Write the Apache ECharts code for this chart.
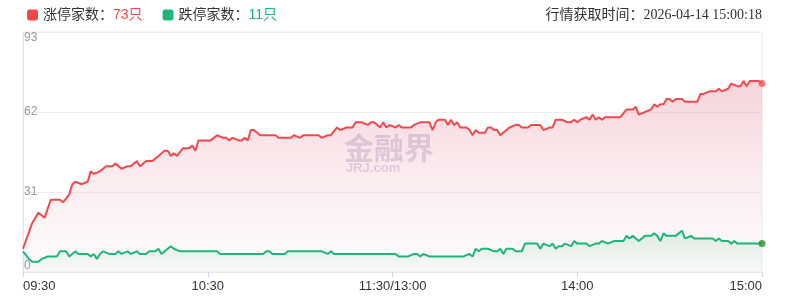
<!DOCTYPE html>
<html>
<head>
<meta charset="utf-8">
<script src="https://cdn.jsdelivr.net/npm/echarts@6/dist/echarts.min.js"></script>
<style>
html,body{margin:0;padding:0;background:#fff;}
#chart{width:793px;height:306px;}
</style>
</head>
<body>
<div id="chart"></div>
<script>
// ---- data ----
const tickMinutes = [0, 60, 120, 180, 240];
const tickLabels = ['09:30', '10:30', '11:30/13:00', '14:00', '15:00'];
const yTicks = [0, 31, 62, 93];

const upName = '涨停家数';
const downName = '跌停家数';
const upCount = '73只';
const downCount = '11只';
const fetchLabel = '行情获取时间：';
const fetchTime = '2026-04-14 15:00:18';

const upMinutes = [0,3,5,7,9,12,13,15,16,17,19,21,22,23,25,27,29,30,32,34,35,37,38,40,42,43,46,47,48,49,50,52,54,55,56,57,59,61,63,65,66,67,68,70,71,72,73,74,75,77,80,82,83,87,88,90,91,96,97,99,100,102,103,105,107,108,110,112,113,114,116,117,118,119,121,122,123,126,127,129,132,133,134,135,137,138,139,140,141,142,144,145,146,147,148,150,151,152,153,154,155,157,158,160,161,162,164,165,168,169,171,172,173,175,177,178,179,180,181,183,184,185,186,187,188,189,191,192,194,196,198,199,200,202,204,205,206,207,208,209,210,211,212,214,215,219,220,221,223,225,226,227,229,230,232,233,234,235,236,239,240];
const upValues = [9,19,23,21,28,28,27,30,34,35,34,35,39,38,39,41,41,42,40,41,41,43,41,43,43,44,47,47,45,46,45,48,48,49,47,51,51,51,53,52,52,51,52,51,51,52,51,55,55,53,53,53,52,52,53,52,53,53,52,53,53,56,55,56,56,58,58,57,58,58,56,58,56,57,56,57,56,56,57,58,58,55,58,59,59,57,59,57,58,56,56,55,53,55,54,54,56,56,55,55,53,55,56,57,57,56,56,57,57,55,56,56,59,59,58,58,59,58,59,60,59,61,59,60,59,60,60,60,60,63,63,64,61,62,63,65,64,65,65,67,67,66,67,67,66,66,69,69,70,70,71,70,71,73,72,72,74,72,74,74,73];

const downMinutes = [0,2,3,5,6,8,11,12,14,15,17,18,21,22,23,24,25,26,28,30,31,32,34,35,37,38,40,41,43,44,45,46,48,49,51,63,64,78,79,80,81,85,86,97,99,100,101,121,122,125,127,128,129,130,132,143,145,146,147,148,149,151,153,154,155,156,157,159,160,162,163,167,168,169,171,172,173,174,175,176,178,179,180,183,184,186,187,188,190,192,195,196,197,198,200,202,204,205,206,207,208,209,212,214,215,217,218,224,225,226,227,229,230,231,232,240];
const downValues = [8,5,4,4,5,6,6,8,8,6,8,7,7,6,7,5,7,8,7,7,8,7,8,7,8,7,7,8,8,9,7,8,10,9,8,8,7,7,8,8,7,7,8,8,7,8,7,7,6,6,7,7,6,7,6,6,7,6,9,8,9,9,8,8,9,7,9,9,8,8,11,11,9,11,10,11,9,10,10,11,10,12,11,11,10,11,11,12,11,12,12,14,13,14,12,14,14,15,14,12,15,14,14,16,13,14,13,13,12,13,12,12,11,12,11,11];

// ---- chart ----
const upColor = '#f2494d';
const downColor = '#1fb67a';
const zip = (xs, ys) => xs.map((x, i) => [x, ys[i]]);
const tickMap = {};
tickMinutes.forEach((m, i) => { tickMap[m] = tickLabels[i]; });
const FONT = '"Liberation Sans", "Noto Sans CJK SC", sans-serif';

const chart = echarts.init(document.getElementById('chart'), null, {renderer: 'canvas'});
chart.setOption({
  animation: false,
  textStyle: {fontFamily: FONT},
  grid: {left: 23, right: 31, top: 32, bottom: 34, show: true, borderColor: '#eeeeee', borderWidth: 1, backgroundColor: 'transparent'},
  legend: {
    left: 22, top: 3,
    icon: 'roundRect',
    itemWidth: 11, itemHeight: 11, itemGap: 20,
    data: [upName, downName],
    textStyle: {
      fontSize: 14, color: '#333', fontFamily: FONT,
      rich: {
        r: {fontSize: 14, color: upColor, fontFamily: FONT},
        g: {fontSize: 14, color: downColor, fontFamily: FONT}
      }
    },
    formatter: function (name) {
      return name === upName ? name + '：{r|' + upCount + '}' : name + '：{g|' + downCount + '}';
    }
  },
  graphic: [
    {
      type: 'text', right: 31, top: 8,
      style: {
        text: fetchLabel + '{t|' + fetchTime + '}',
        fontSize: 14, fill: '#333', fontFamily: FONT,
        rich: {t: {fontSize: 14, fontFamily: '"Liberation Serif", serif', fill: '#333'}}
      }
    },
    {
      type: 'group', left: 344, top: 133, silent: true, z: 1,
      children: [
        {type: 'text', x: 0, y: 0, style: {text: '金融界', fontSize: 30, fontWeight: 'bold', fill: 'rgba(140,130,185,0.32)', fontFamily: '"Noto Sans CJK SC", sans-serif'}},
        {type: 'text', x: 2, y: 29, style: {text: 'JRJ.com', fontSize: 13, fontWeight: 'bold', fill: 'rgba(140,130,185,0.32)', fontFamily: FONT}}
      ]
    }
  ],
  xAxis: {
    type: 'value', min: 0, max: 240, interval: 60,
    axisLine: {show: true, lineStyle: {color: '#e8e8e8'}},
    axisTick: {show: true, length: 5, lineStyle: {color: '#ccd6eb'}},
    splitLine: {show: false},
    axisLabel: {
      color: '#333', fontSize: 13, margin: 8, fontFamily: FONT,
      alignMinLabel: 'left', alignMaxLabel: 'right',
      formatter: v => tickMap[v] !== undefined ? tickMap[v] : ''
    }
  },
  yAxis: {
    type: 'value', min: yTicks[0], max: yTicks[yTicks.length - 1], interval: yTicks[1] - yTicks[0],
    axisLine: {show: true, lineStyle: {color: '#e6e6e6'}},
    axisTick: {show: false},
    splitLine: {show: true, lineStyle: {color: '#eeeeee'}},
    axisLabel: {
      inside: true, margin: 1, color: '#999', fontSize: 12, fontFamily: FONT,
      verticalAlignMinLabel: 'bottom', verticalAlignMaxLabel: 'top'
    }
  },
  series: [
    {
      name: upName, type: 'line', data: zip(upMinutes, upValues),
      showSymbol: false, symbol: 'none', z: 3,
      lineStyle: {color: upColor, width: 2},
      itemStyle: {color: upColor},
      areaStyle: {
        color: new echarts.graphic.LinearGradient(0, 0, 0, 1, [
          {offset: 0, color: 'rgba(222,110,135,0.42)'},
          {offset: 1, color: 'rgba(240,170,180,0.06)'}
        ])
      }
    },
    {
      name: downName, type: 'line', data: zip(downMinutes, downValues),
      showSymbol: false, symbol: 'none', z: 4,
      lineStyle: {color: downColor, width: 2},
      itemStyle: {color: downColor},
      areaStyle: {
        color: new echarts.graphic.LinearGradient(0, 0, 0, 1, [
          {offset: 0, color: 'rgba(40,170,110,0.22)'},
          {offset: 1, color: 'rgba(40,170,110,0.03)'}
        ])
      }
    },
    {
      type: 'scatter', z: 5, clip: false, symbolSize: 7, silent: true,
      data: [
        {value: [upMinutes[upMinutes.length - 1], upValues[upValues.length - 1]], itemStyle: {color: '#f25558'}},
        {value: [downMinutes[downMinutes.length - 1], downValues[downValues.length - 1]], itemStyle: {color: '#2a8c2f'}}
      ]
    }
  ]
});
</script>
</body>
</html>
